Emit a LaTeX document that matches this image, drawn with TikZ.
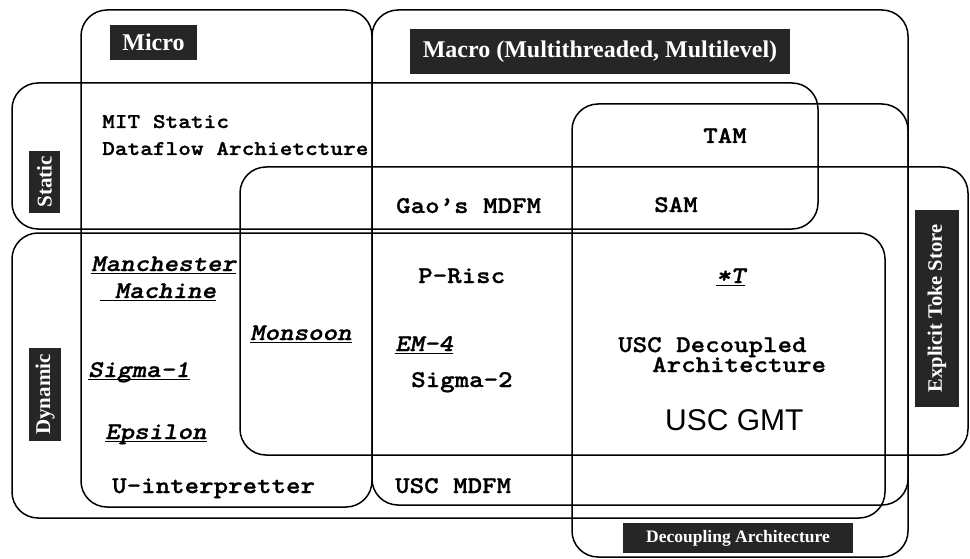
\documentclass[tikz,border=0pt]{standalone}
\usepackage{fontspec}
\setmainfont{Liberation Serif}
\setsansfont{Liberation Sans}
\newfontfamily\typer{lmmonolt10-bold.otf}[FakeStretch=1.15, FakeBold=1, ItalicFont=lmmonolt10-boldoblique.otf]
\newcommand{\ulit}[1]{\setbox0\hbox{#1}\rlap{\rule[-3pt]{\wd0}{1.5pt}}\box0}

\begin{document}
\begin{tikzpicture}[
    x=1pt, y=-1pt,
    region/.style={draw, line width=1.5pt, rounded corners=26pt},
    tag/.style={fill=black!85, text=white, inner sep=0pt, font=\bfseries\fontsize{24}{24}\selectfont},
    entry/.style={anchor=base west, inner sep=0pt, font=\typer\fontsize{24}{24}\selectfont},
    machine/.style={entry, font=\typer\itshape\fontsize{24}{24}\selectfont}
]
\useasboundingbox (0,0) rectangle (970,559);

% overlapping classes
\draw[region] (81,10) rectangle (372,507);   % micro
\draw[region] (372,10) rectangle (908,505);  % macro
\draw[region] (12,83) rectangle (818,229);   % static
\draw[region] (12,233) rectangle (885,518);  % dynamic
\draw[region] (240,167) rectangle (968,455); % explicit token store
\draw[region] (572,104) rectangle (908,557); % decoupling

% class tags
\node[tag, minimum width=87pt, minimum height=35pt] (micro) at (153.5,42.5) {Micro};
\node[tag, minimum width=380pt, minimum height=45pt] (macro) at (600,51.5) {Macro (Multithreaded, Multilevel)};
\node[tag, rotate=90, minimum width=62pt, minimum height=31pt, font=\bfseries\fontsize{21}{21}\selectfont] (static) at (44.5,182) {Static};
\node[tag, rotate=90, minimum width=93pt, minimum height=32pt, font=\bfseries\fontsize{21}{21}\selectfont] (dynamic) at (45,394.5) {Dynamic};
\node[tag, rotate=90, minimum width=197pt, minimum height=44pt, font=\bfseries\fontsize{20.5}{20.5}\selectfont] (ets) at (937,308.5) {Explicit Toke Store};
\node[tag, minimum width=230pt, minimum height=30pt, font=\bfseries\fontsize{17.5}{17.5}\selectfont] (decoup) at (738,538) {Decoupling Architecture};

% machines
\node[entry, font=\typer\fontsize{21}{21}\selectfont] (mit1) at (102,128) {MIT Static};
\node[entry, font=\typer\fontsize{21}{21}\selectfont] (mit2) at (102,155) {Dataflow Archietcture};
\node[entry] (gao) at (396,213) {Gao’s MDFM};
\node[entry, anchor=base] (tam) at (725,143) {TAM};
\node[entry, anchor=base] (sam) at (676,212) {SAM};
\node[machine] (manch1) at (91,271) {\ulit{Manchester}};
\node[machine] (manch2) at (100,298) {\ulit{\ Machine}};
\node[entry] (prisc) at (418,283) {P-Risc};
\node[machine] (start) at (716,283) {\ulit{*T}};
\node[machine] (monsoon) at (250,340) {\ulit{Monsoon}};
\node[machine] (em4) at (395,351) {\ulit{EM-4}};
\node[entry] (uscdec1) at (618,352) {USC Decoupled};
\node[entry] (uscdec2) at (652,372) {Architecture};
\node[machine] (sigma1) at (88,377) {\ulit{Sigma-1}};
\node[entry] (sigma2) at (411,387) {Sigma-2};
\node[anchor=base west, inner sep=0pt, font=\sffamily\fontsize{30}{30}\selectfont] (gmt) at (665,430) {USC GMT};
\node[machine] (epsilon) at (105,439) {\ulit{Epsilon}};
\node[entry] (uinterp) at (112,493) {U-interpretter};
\node[entry] (uscmdfm) at (395,493) {USC MDFM};
\end{tikzpicture}
\end{document}
